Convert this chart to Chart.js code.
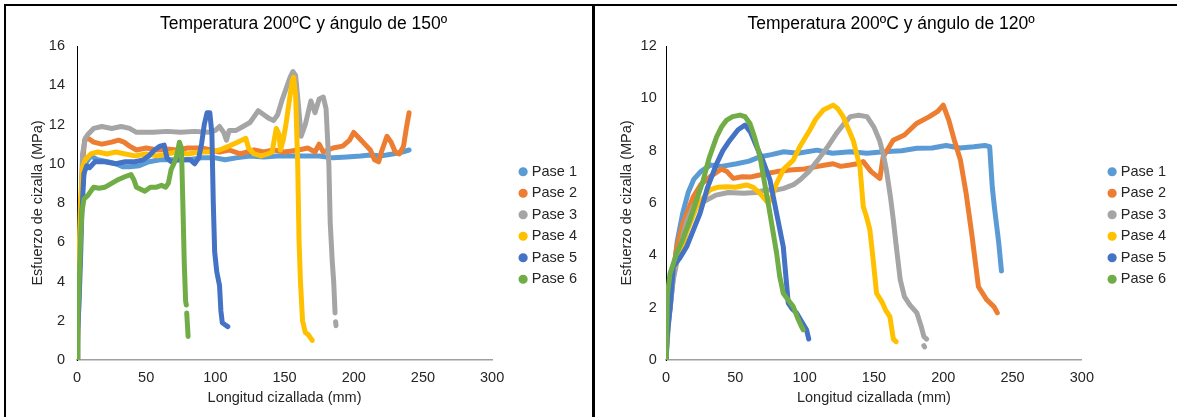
<!DOCTYPE html>
<html>
<head>
<meta charset="utf-8">
<script src="https://cdn.jsdelivr.net/npm/chart.js@4.4.1/dist/chart.umd.min.js"></script>
<style>
  body { margin: 0; background: #fff; }
  #page { position: relative; width: 1177px; height: 417px; overflow: hidden; background: #fff; }
  canvas { position: absolute; top: 0; }
  .ln { position: absolute; background: #000; z-index: 2; }
</style>
</head>
<body>
<div id="page">
  <canvas id="chartA" width="592" height="417" style="left:0"></canvas>
  <canvas id="chartB" width="582" height="417" style="left:595px"></canvas>
  <div class="ln" style="left:4px;top:4px;width:1173px;height:2px"></div>
  <div class="ln" style="left:4px;top:4px;width:2px;height:413px"></div>
  <div class="ln" style="left:592px;top:4px;width:3px;height:413px"></div>
</div>
<script>
// Temperatura 200ºC, ángulo 150º
var a1x = [0,0.5,1,2,3,5,7,10,15,22,28,33,38,45,52,60,70,80,90,100,107,115,125,135,145,155,165,175,185,195,205,212,220,228,235,240];
var a1y = [0,2,4,6,8,9.5,10.1,10.4,10.2,10.1,10.0,9.85,9.85,9.9,10.1,10.2,10.2,10.2,10.3,10.3,10.2,10.3,10.4,10.35,10.4,10.4,10.4,10.4,10.3,10.35,10.4,10.45,10.4,10.5,10.6,10.7];
var a2x = [0,1,2.5,4,5.5,8,12,18,25,30,34,38,43,50,58,65,72,80,90,97,103,110,118,128,135,142,150,160,167,172,175,178,185,192,197,200,204,208,212,215,218,220,224,227,230,233,236,238,240];
var a2y = [0,3,7,10,11.2,11.3,11.1,11.0,11.1,11.2,11.1,10.9,10.7,10.8,10.7,10.75,10.7,10.8,10.8,10.7,10.6,10.7,10.5,10.7,10.6,10.7,10.6,10.7,10.8,10.6,11.0,10.6,10.8,10.9,11.2,11.6,11.3,11.0,10.7,10.2,10.1,10.6,11.4,11.1,10.6,10.5,10.9,11.8,12.6];
var a3x = [0,1,2,3,4,6,8,12,18,25,32,38,43,55,65,75,85,95,100,103,106,108,110,115,120,125,128,131,135,139,142,145,148,151,154,156,158,160,162,165,169,172,175,178,180,182,183,184.5,185.5,186.5,186.7,186.9,187.2];
var a3y = [0,2,5,8,10.5,11.3,11.5,11.8,11.9,11.8,11.9,11.8,11.6,11.6,11.65,11.6,11.65,11.6,11.7,11.9,11.6,11.2,11.7,11.7,11.9,12.1,12.4,12.7,12.5,12.3,12.2,12.5,13.2,13.8,14.4,14.7,14.5,13,11.4,12,13.2,12.6,13.3,13.4,12.8,10,7,5,4,2.4,null,1.95,1.75];
var a4x = [0,0.5,1.5,2.5,4,6,10,15,22,28,35,42,50,58,65,72,80,88,95,103,110,116,122,124,128,133,138,141,144,146,147,149,151,153,155.5,156.5,158,159.5,160.5,161.5,163,165,167,170];
var a4y = [0,2,5,8,9.8,10.2,10.5,10.6,10.5,10.6,10.5,10.4,10.5,10.4,10.5,10.6,10.5,10.6,10.6,10.7,10.9,11.1,11.3,10.8,10.5,10.4,10.5,10.6,11.8,11.5,10.7,11.2,12.0,13.0,14.2,14.4,13.5,10,6,4,2,1.4,1.3,1.0];
var a5x = [0,0.5,1.5,2.5,3.5,5,7,9,13,20,28,35,42,48,52,56,60,63,65,68,73,78,82,85,88,90,92,94,96,97.5,98.5,99.5,101,103,104,105,107,109];
var a5y = [0,1.5,3,5,7.5,9.5,9.9,9.8,10.1,10.1,10.0,10.1,10.1,10.2,10.4,10.7,10.9,10.95,10.3,10.1,10.2,10.2,10.2,10.0,10.3,11.0,12.0,12.6,12.6,11.5,8,5.5,4.5,3.8,2.5,1.9,1.8,1.7];
var a6x = [0,0.5,1.5,2.5,3.5,5,8,12,16,20,25,30,35,39,41,43,46,49,53,57,61,64,66,68,70,72,74,75.5,76.5,77.5,78.5,79,79.1,79.3,80.3];
var a6y = [0,2,4,6,7.5,8.2,8.4,8.8,8.75,8.8,9.0,9.2,9.35,9.45,9.2,8.8,8.7,8.6,8.8,8.8,8.9,8.8,9.0,9.7,10.0,10.4,11.1,10.8,8,5,3,2.8,null,2.4,1.2];

// Temperatura 200ºC, ángulo 120º
var b1x = [0,1,3,5,8,12,16,20,25,32,40,51,60,68,76,85,95,109,120,133,145,157,170,181,192,202,212,222,230,233.5,235.4,237,240,242];
var b1y = [0,1.2,2,3,4.5,5.6,6.4,6.9,7.2,7.45,7.4,7.5,7.6,7.77,7.85,7.96,7.9,8.02,7.9,7.96,7.9,7.96,8.0,8.09,8.1,8.2,8.1,8.15,8.2,8.15,6.6,5.8,4.5,3.4];
var b2x = [0,1,3,7.7,12,19.7,25,31.7,40,44,48.5,55,60.6,66,72.6,80,89.4,100,108.6,115,120.6,126,132.7,138,142.3,148,154.3,156.7,163.9,172,180.7,190,196,200,204,208,212.4,216.5,220.5,225.4,231.4,236.7,239];
var b2y = [0,1.5,2.5,4.3,5.2,6.24,6.7,7.0,7.3,7.2,6.94,7.0,6.99,7.05,7.13,7.2,7.26,7.3,7.39,7.45,7.5,7.4,7.45,7.5,7.58,7.2,6.94,7.77,8.4,8.6,9.04,9.3,9.5,9.74,9.17,8.4,7.64,6.37,4.85,2.8,2.3,2.03,1.8];
var b3x = [0,2,5,10,15,20,27,36,45,56,65,72,80,85,92,97,103,109,116,123,128,133,139,145,150,154,157,159,162,164,166,169,172,176,181,184,186,188,188.2,186,186.5];
var b3y = [0,1.5,3,4.3,5.3,5.9,6.05,6.3,6.4,6.37,6.4,6.5,6.5,6.56,6.7,6.9,7.2,7.6,8.1,8.66,9.0,9.3,9.35,9.3,8.9,8.4,7.8,7.26,6.2,5.35,4.4,3.06,2.42,2.1,1.8,1.3,0.9,0.8,null,0.55,0.5];
var b4x = [0,1,3,5,10,15,22.1,27,31.7,37,43.8,50,58.2,63,67.8,73.8,76,79.8,85,91.8,97,103.8,108,113.4,120.6,124,127.8,131,135,139.9,142.3,144.5,147.1,149.5,151.9,156,158.5,161.5,164,166];
var b4y = [0,1.5,2.8,3.5,4.08,4.9,5.86,6.2,6.5,6.6,6.62,6.6,6.69,6.6,6.37,5.99,6.2,6.75,7.3,7.64,8.2,8.79,9.2,9.55,9.74,9.6,9.3,8.9,8.4,7.39,5.86,5.5,4.97,3.8,2.55,2.2,1.9,1.66,0.8,0.7];
var b5x = [0,1,3,5.3,10,14.9,20,24.5,30,36.5,41,46.1,52,57,61,65.4,70,75,79.8,84.6,88.2,91,94.2,98,101.4,103];
var b5y = [0,1,2,3.57,3.9,4.33,5.0,5.6,6.6,7.5,8.0,8.4,8.8,8.98,8.7,8.15,7.6,6.88,5.6,4.33,2.17,1.95,1.8,1.45,1.15,0.8];
var b6x = [0,1,2.9,7.7,12,17.3,22,26.9,31,36.5,40,43.8,48,53.4,57,60.6,64,67.8,71,75,79.8,82,84.6,88,91.8,95,97.8,99];
var b6y = [0,2.5,3.3,4.08,4.6,5.35,6.1,6.88,7.7,8.53,8.9,9.17,9.3,9.36,9.3,9.04,8.5,7.77,6.8,5.6,4.08,3.2,2.55,2.3,2.04,1.6,1.27,1.15];

var labels = ['Pase 1','Pase 2','Pase 3','Pase 4','Pase 5','Pase 6'];
var colors = ['#5B9BD5','#ED7D31','#A5A5A5','#FFC000','#4472C4','#70AD47'];
var xTicks = [0,50,100,150,200,250,300];

var FONT = "'Liberation Sans', Arial, sans-serif";
var TXT = '#262626';

function pts(xs, ys) {
	var out = [];
	for (let i = 0; i < xs.length; i++) out.push({x: xs[i], y: ys[i]});
	return out;
}

function makeChart(id, title, series, yMax, lay) {
	var datasets = [];
	for (let i = 0; i < series.length; i++) {
		datasets.push({
			label: labels[i],
			data: pts(series[i][0], series[i][1]),
			borderColor: colors[i],
			backgroundColor: colors[i],
			borderWidth: 5,
			borderCapStyle: 'round',
			borderJoinStyle: 'round',
			pointRadius: 0,
			pointStyle: 'circle',
			showLine: true,
			spanGaps: false,
			order: series.length - i   // later series drawn on top, like the original
		});
	}
	return new Chart(document.getElementById(id), {
		type: 'scatter',
		data: { datasets: datasets },
		options: {
			responsive: false,
			animation: false,
			layout: { padding: { left: lay.padL, right: lay.padR, top: 0, bottom: 0 } },
			plugins: {
				tooltip: { enabled: false },
				title: {
					display: true, text: title, color: '#000',
					font: { family: FONT, size: 17.5, weight: 'normal' },
					padding: { top: 13.5, bottom: 11.5 }
				},
				legend: {
					position: 'right',
					align: 'center',
					title: { display: true, text: '', font: { size: 10 }, padding: { top: 22, bottom: 0 } },
					labels: {
						usePointStyle: true, boxWidth: 3, boxHeight: 3, padding: 7,
						color: TXT, font: { family: FONT, size: 14.5 },
						sort: (a, b) => a.datasetIndex - b.datasetIndex
					}
				}
			},
			scales: {
				x: {
					type: 'linear', min: 0, max: 300,
					afterBuildTicks: (s) => { s.ticks = xTicks.map(v => ({value: v})); },
					ticks: { padding: 9, color: TXT, font: { family: FONT, size: 14.5 } },
					grid: { display: false, drawTicks: false },
					border: { color: '#a0a0a0', width: 1.5 },
					title: { display: true, text: 'Longitud cizallada (mm)', color: TXT,
						font: { family: FONT, size: 14.5 }, padding: { top: 0, bottom: 10.3 } },
					afterFit: (s) => { s.height = 57; }
				},
				y: {
					type: 'linear', min: 0, max: yMax,
					ticks: { stepSize: 2, padding: lay.tickPad, color: TXT, font: { family: FONT, size: 14.5 } },
					grid: { display: false, drawTicks: false },
					border: { color: '#000', width: 1 },
					title: { display: true, text: 'Esfuerzo de cizalla (MPa)', color: TXT,
						font: { family: FONT, size: 14.5 }, padding: { top: lay.titlePad, bottom: 0 } },
					afterFit: (s) => { s.width = lay.yW; }
				},
				// empty spacer between plot and legend
				gap: {
					type: 'linear', position: 'right', display: true,
					grid: { display: false, drawTicks: false },
					ticks: { display: false },
					border: { display: false },
					afterFit: (s) => { s.width = lay.gapW; }
				}
			}
		}
	});
}

makeChart('chartA', 'Temperatura 200ºC y ángulo de 150º',
	[[a1x,a1y],[a2x,a2y],[a3x,a3y],[a4x,a4y],[a5x,a5y],[a6x,a6y]], 16,
	{ padL: 20, padR: 5, yW: 57, tickPad: 12, titlePad: 8.8, gapW: 22.5 });

makeChart('chartB', 'Temperatura 200ºC y ángulo de 120º',
	[[b1x,b1y],[b2x,b2y],[b3x,b3y],[b4x,b4y],[b5x,b5y],[b6x,b6y]], 12,
	{ padL: 11, padR: 1, yW: 60, tickPad: 9.3, titlePad: 12.3, gapW: 21.75 });
</script>
</body>
</html>
